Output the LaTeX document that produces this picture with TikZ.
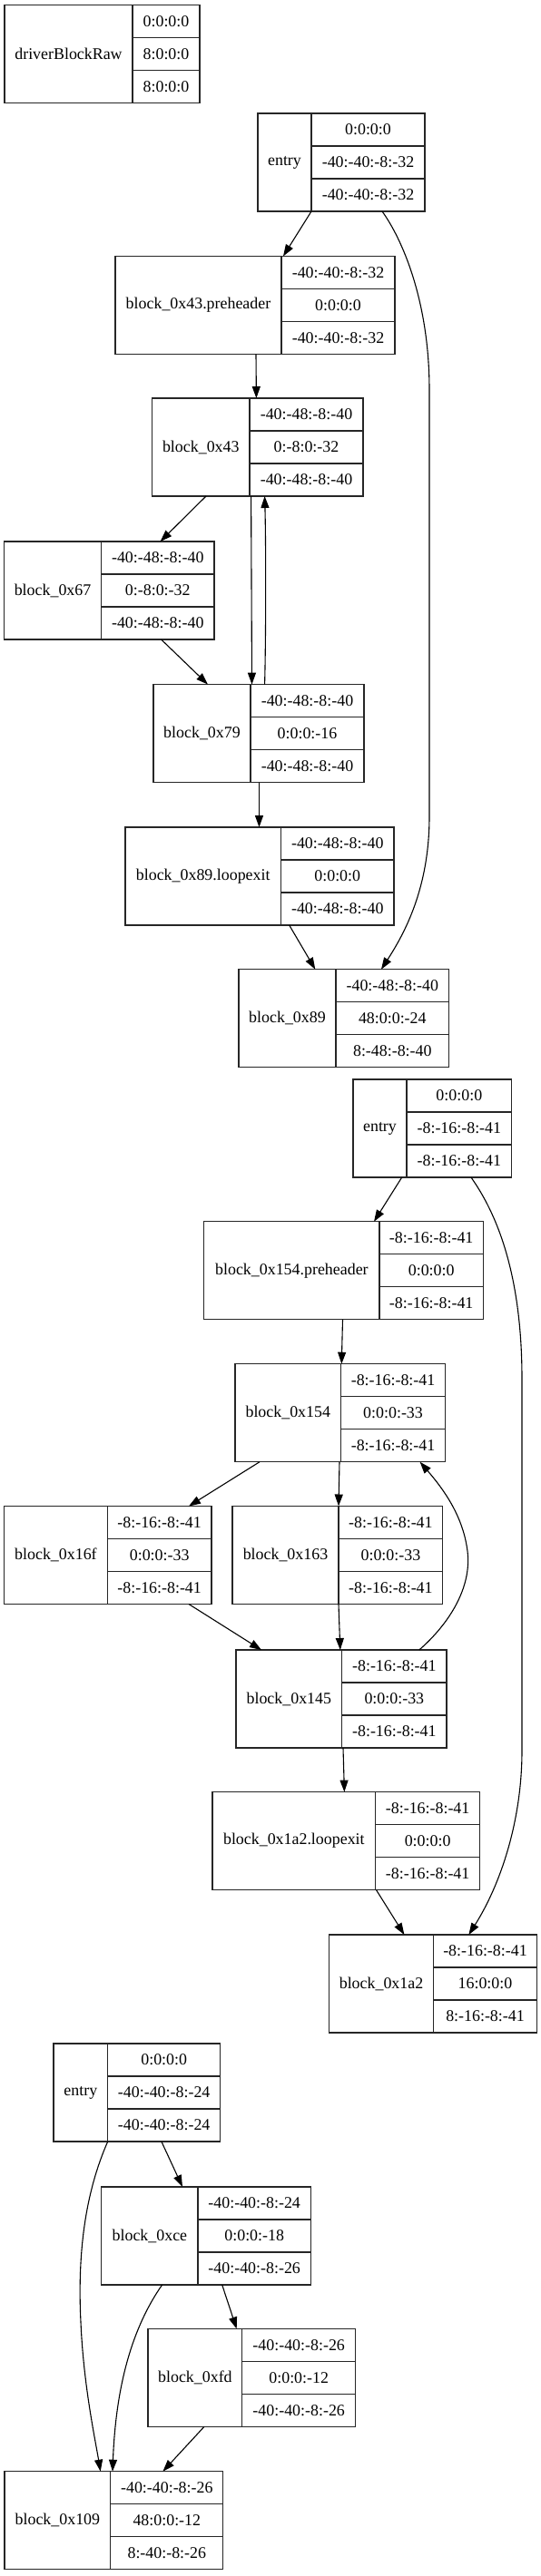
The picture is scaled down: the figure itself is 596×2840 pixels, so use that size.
\documentclass[tikz,border=0pt]{standalone}
\usepackage{fontspec}
\setmainfont{Liberation Serif}
\usetikzlibrary{arrows.meta}
\tikzset{
  recbox/.style={draw=black!85, line width=1.3pt, rectangle, inner sep=0pt, outer sep=0pt, minimum height=108pt},
  recline/.style={draw=black!85, line width=1.3pt},
  lbl/.style={inner sep=0pt, font=\fontsize{17.9}{20}\selectfont},
  edge/.style={draw=black, line width=1.1pt, -{Triangle[length=13pt,width=9pt]}}
}
\newcommand\rec[9]{%
  \node[recbox, minimum width={#4-#2}, anchor=north west] (#1) at (#2,#5) {};
  \draw[recline] (#3,#5) -- (#3,#5+108);
  \draw[recline] (#3,#5+36) -- (#4,#5+36);
  \draw[recline] (#3,#5+72) -- (#4,#5+72);
  \node[lbl] (#1l) at ({(#2+#3)/2},#5+54) {#6};
  \node[lbl] (#1a) at ({(#3+#4)/2},#5+18) {#7};
  \node[lbl] (#1b) at ({(#3+#4)/2},#5+54) {#8};
  \node[lbl] (#1c) at ({(#3+#4)/2},#5+90) {#9};
}
\begin{document}
\begin{tikzpicture}[x=1pt,y=-1pt]
\useasboundingbox (0,0) rectangle (596,2840);
% graph 0
\rec{drv}{5}{146}{220}{5.5}{driverBlockRaw}{0:0:0:0}{8:0:0:0}{8:0:0:0}
% graph 1
\rec{ea}{284}{343}{468}{125}{entry}{0:0:0:0}{-40:-40:-8:-32}{-40:-40:-8:-32}
\rec{pa}{127}{310}{435}{282.5}{block\_0x43.preheader}{-40:-40:-8:-32}{0:0:0:0}{-40:-40:-8:-32}
\rec{bft}{167.6}{275}{400}{439}{block\_0x43}{-40:-48:-8:-40}{0:-8:0:-32}{-40:-48:-8:-40}
\rec{bsx}{4.6}{111.5}{236}{597}{block\_0x67}{-40:-48:-8:-40}{0:-8:0:-32}{-40:-48:-8:-40}
\rec{bsn}{169}{276}{401}{754.6}{block\_0x79}{-40:-48:-8:-40}{0:0:0:-16}{-40:-48:-8:-40}
\rec{la}{138}{309.5}{434}{912}{block\_0x89.loopexit}{-40:-48:-8:-40}{0:0:0:0}{-40:-48:-8:-40}
\rec{bei}{263}{370}{494.6}{1068.7}{block\_0x89}{-40:-48:-8:-40}{48:0:0:-24}{8:-48:-8:-40}
% graph 2
\rec{eb}{389}{448}{563.7}{1190}{entry}{0:0:0:0}{-8:-16:-8:-41}{-8:-16:-8:-41}
\rec{pb}{224.8}{418}{532.4}{1346.8}{block\_0x154.preheader}{-8:-16:-8:-41}{0:0:0:0}{-8:-16:-8:-41}
\rec{bof}{259}{375.6}{490.5}{1503.7}{block\_0x154}{-8:-16:-8:-41}{0:0:0:-33}{-8:-16:-8:-41}
\rec{bsf}{4.6}{118.3}{233}{1660.5}{block\_0x16f}{-8:-16:-8:-41}{0:0:0:-33}{-8:-16:-8:-41}
\rec{bst}{256}{373}{487.8}{1660.5}{block\_0x163}{-8:-16:-8:-41}{0:0:0:-33}{-8:-16:-8:-41}
\rec{bff}{260}{376.7}{492}{1819}{block\_0x145}{-8:-16:-8:-41}{0:0:0:-33}{-8:-16:-8:-41}
\rec{lb}{234}{413.7}{528.6}{1975.6}{block\_0x1a2.loopexit}{-8:-16:-8:-41}{0:0:0:0}{-8:-16:-8:-41}
\rec{bat}{362.6}{477.5}{591.5}{2133}{block\_0x1a2}{-8:-16:-8:-41}{16:0:0:0}{8:-16:-8:-41}
% graph 3
\rec{ec}{59}{118.7}{242.7}{2253}{entry}{0:0:0:0}{-40:-40:-8:-24}{-40:-40:-8:-24}
\rec{bce}{111.8}{218}{342.4}{2411}{block\_0xce}{-40:-40:-8:-24}{0:0:0:-18}{-40:-40:-8:-26}
\rec{bfd}{163}{266.8}{391.6}{2567.5}{block\_0xfd}{-40:-40:-8:-26}{0:0:0:-12}{-40:-40:-8:-26}
\rec{bon}{5}{121.8}{245.8}{2724.7}{block\_0x109}{-40:-40:-8:-26}{48:0:0:-12}{8:-40:-8:-26}
% edges graph 1
\draw[edge] ([xshift=59pt]ea.south west) -- ([xshift=185pt]pa.north west);
\draw[edge] ([xshift=137pt]ea.south west) .. controls (442,262) and (473,330) .. (473,430) -- (473,900) .. controls (473,980) and (445,1030) .. ([xshift=157pt]bei.north west);
\draw[edge] ([xshift=155pt]pa.south west) -- ([xshift=114.8pt]bft.north west);
\draw[edge] ([xshift=59.4pt]bft.south west) -- ([xshift=172pt]bsx.north west);
\draw[edge] ([xshift=109pt]bft.south west) -- ([xshift=108.5pt]bsn.north west);
\draw[edge] ([xshift=122.6pt]bsn.north west) .. controls (293,700) and (293,600) .. ([xshift=124pt]bft.south west);
\draw[edge] ([xshift=173pt]bsx.south west) -- ([xshift=60pt]bsn.north west);
\draw[edge] ([xshift=116.5pt]bsn.south west) -- ([xshift=147.5pt]la.north west);
\draw[edge] ([xshift=180.7pt]la.south west) -- ([xshift=84.3pt]bei.north west);
% edges graph 2
\draw[edge] ([xshift=53.7pt]eb.south west) -- ([xshift=187.2pt]pb.north west);
\draw[edge] ([xshift=130pt]eb.south west) .. controls (545,1335) and (575,1400) .. (575,1520) -- (575,1930) .. controls (575,2010) and (550,2080) .. ([xshift=153.8pt]bat.north west);
\draw[edge] ([xshift=152.7pt]pb.south west) -- ([xshift=117.3pt]bof.north west);
\draw[edge] ([xshift=27pt]bof.south west) -- ([xshift=203.4pt]bsf.north west);
\draw[edge] ([xshift=115pt]bof.south west) -- ([xshift=117pt]bst.north west);
\draw[edge] ([xshift=117pt]bst.south west) -- ([xshift=114.8pt]bff.north west);
\draw[edge] ([xshift=203.4pt]bsf.south west) -- ([xshift=28pt]bff.north west);
\draw[edge] ([xshift=201.8pt]bff.north west) .. controls (495,1790) and (520,1750) .. (515,1710) .. controls (510,1670) and (487,1640) .. ([xshift=203.6pt]bof.south west);
\draw[edge] ([xshift=118pt]bff.south west) -- ([xshift=145.4pt]lb.north west);
\draw[edge] ([xshift=180.5pt]lb.south west) -- ([xshift=82.8pt]bat.north west);
% edges graph 3
\draw[edge] ([xshift=118.9pt]ec.south west) -- ([xshift=89.2pt]bce.north west);
\draw[edge] ([xshift=59.7pt]ec.south west) .. controls (95,2415) and (85,2480) .. (89,2560) .. controls (92,2630) and (105,2690) .. ([xshift=105.7pt]bon.north west);
\draw[edge] ([xshift=66.8pt]bce.south west) .. controls (150,2560) and (128,2620) .. ([xshift=119pt]bon.north west);
\draw[edge] ([xshift=132.9pt]bce.south west) -- ([xshift=97.7pt]bfd.north west);
\draw[edge] ([xshift=61.8pt]bfd.south west) -- ([xshift=174.4pt]bon.north west);
\end{tikzpicture}
\end{document}
